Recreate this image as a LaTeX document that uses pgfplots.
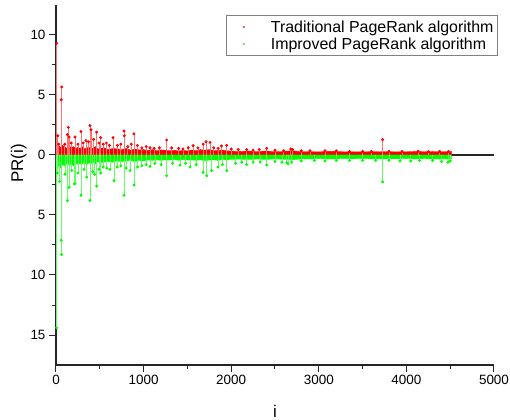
\documentclass[border=0pt]{standalone}
\usepackage{fontspec}
\setmainfont{Liberation Sans}
\usepackage{pgfplots}
\pgfplotsset{compat=1.18}

\definecolor{tradred}{RGB}{255,0,0}
\definecolor{imprgreen}{RGB}{0,255,0}

% dense band near zero (upper edge of the solid strip)
\pgfplotstableread{
x y
0 0.75
25 0.9
50 0.6
75 0.8
100 0.7
125 0.55
150 0.75
175 0.6
200 0.7
225 0.5
250 0.65
275 0.55
300 0.7
325 0.5
350 0.6
375 0.65
400 0.5
425 0.6
450 0.7
475 0.5
500 0.55
550 0.6
600 0.45
650 0.55
700 0.5
750 0.45
800 0.55
850 0.4
900 0.5
950 0.42
1000 0.45
1050 0.38
1100 0.45
1150 0.35
1200 0.42
1250 0.4
1300 0.35
1350 0.4
1400 0.33
1450 0.38
1500 0.34
1550 0.42
1600 0.36
1650 0.45
1700 0.4
1750 0.45
1800 0.35
1850 0.38
1900 0.42
1950 0.35
2000 0.32
2100 0.3
2200 0.33
2300 0.28
2400 0.34
2500 0.27
2600 0.3
2700 0.36
2800 0.27
2900 0.28
3000 0.26
3100 0.3
3200 0.3
3300 0.26
3400 0.27
3500 0.26
3600 0.28
3700 0.27
3800 0.28
3900 0.26
4000 0.27
4100 0.3
4200 0.27
4300 0.28
4400 0.27
4517 0.28
}\tradband

\pgfplotstableread{
x y
0 -1.0
25 -0.9
50 -1.1
75 -0.8
100 -0.9
125 -0.7
150 -0.85
175 -0.75
200 -0.9
225 -0.65
250 -0.8
275 -0.7
300 -0.75
325 -0.6
350 -0.8
375 -0.65
400 -0.7
425 -0.6
450 -0.75
475 -0.55
500 -0.65
550 -0.6
600 -0.55
650 -0.6
700 -0.5
750 -0.55
800 -0.5
850 -0.45
900 -0.55
950 -0.45
1000 -0.5
1050 -0.42
1100 -0.45
1150 -0.4
1200 -0.45
1250 -0.4
1300 -0.42
1350 -0.38
1400 -0.45
1450 -0.38
1500 -0.42
1550 -0.4
1600 -0.45
1650 -0.4
1700 -0.48
1750 -0.42
1800 -0.4
1850 -0.45
1900 -0.38
1950 -0.42
2000 -0.36
2100 -0.35
2200 -0.38
2300 -0.33
2400 -0.38
2500 -0.32
2600 -0.36
2700 -0.4
2800 -0.32
2900 -0.33
3000 -0.3
3100 -0.34
3200 -0.32
3300 -0.3
3400 -0.32
3500 -0.3
3600 -0.32
3700 -0.33
3800 -0.31
3900 -0.32
4000 -0.3
4100 -0.33
4200 -0.31
4300 -0.32
4400 -0.34
4517 -0.33
}\imprband

% individual spikes
\pgfplotstableread{
x y
8 9.3
20 1.6
30 0.9
60 4.6
65 5.67
100 0.9
130 1.7
140 2.3
150 1.5
175 1.0
217 1.5
250 0.9
285 1.95
310 1.0
342 1.2
370 1.1
388 2.45
400 2.1
430 1.3
464 1.9
490 1.0
510 1.45
540 0.9
575 1.0
610 0.8
651 1.45
700 0.8
740 0.9
776 2.0
780 1.6
820 0.7
860 0.9
890 1.76
930 0.8
980 0.6
1030 0.7
1073 0.6
1120 0.55
1180 0.6
1263 1.25
1320 0.6
1400 0.55
1450 0.5
1510 0.6
1566 0.78
1620 0.6
1680 0.9
1712 1.1
1758 1.05
1800 0.6
1850 0.55
1890 0.75
1948 0.8
2000 0.5
2080 0.45
2177 0.45
2250 0.4
2320 0.45
2405 0.56
2500 0.4
2600 0.35
2680 0.5
2700 0.45
2800 0.35
2900 0.35
3070 0.36
3200 0.35
3350 0.3
3500 0.3
3600 0.3
3729 1.28
3800 0.3
3950 0.3
4135 0.32
4250 0.28
4380 0.3
4480 0.3
}\tradspikes

\pgfplotstableread{
x y
8 -14.4
15 -1.5
40 -2.2
60 -7.1
65 -8.3
103 -1.6
130 -3.8
150 -2.7
180 -1.3
209 -2.4
217 -2.4
250 -1.5
285 -3.35
320 -1.2
350 -1.85
388 -3.8
420 -1.4
440 -1.6
464 -2.6
490 -1.2
510 -1.5
540 -1.0
580 -1.1
616 -1.2
662 -2.15
700 -1.0
740 -0.9
776 -3.35
800 -1.1
845 -1.3
890 -2.5
930 -1.0
980 -0.9
1030 -0.8
1073 -0.95
1130 -0.7
1200 -0.8
1263 -1.73
1330 -0.7
1415 -0.85
1480 -0.7
1530 -1.0
1600 -0.8
1680 -1.45
1720 -1.73
1777 -1.3
1850 -1.0
1900 -0.8
1950 -1.3
2050 -0.7
2120 -0.6
2177 -0.8
2250 -0.6
2330 -0.6
2405 -0.84
2500 -0.55
2580 -0.6
2633 -0.65
2650 -0.75
2690 -0.6
2800 -0.5
2950 -0.45
3070 -0.5
3200 -0.45
3350 -0.45
3500 -0.45
3650 -0.45
3729 -2.24
3800 -0.45
3927 -0.5
4050 -0.5
4150 -0.45
4300 -0.45
4403 -0.55
4475 -0.6
4500 -0.5
}\imprspikes

\begin{document}
\begin{tikzpicture}
\path[use as bounding box] (-56bp,-55bp) rectangle (454bp,365bp);
\begin{axis}[
  scale only axis,
  width=438bp, height=360bp,
  xmin=0, xmax=5000, ymin=-17.5, ymax=12.5,
  axis x line*=bottom, axis y line*=left,
  axis line style={black!85, line width=1.2bp},
  xtick={0,1000,2000,3000,4000,5000},
  ytick={-15,-10,-5,0,5,10},
  yticklabels={15,10,5,0,5,10},
  minor x tick num=1, minor y tick num=1,
  tick align=outside,
  major tick length=7bp, minor tick length=4bp,
  tick style={black!85, line width=1bp},
  /pgf/number format/assume math mode=true,
  /pgf/number format/1000 sep={},
  tick label style={font=\fontsize{13.5}{16}\selectfont},
  xlabel={i}, ylabel={PR(i)},
  label style={font=\fontsize{17}{20}\selectfont},
  xlabel style={at={(axis description cs:0.5,-0.13)}, anchor=center},
  ylabel style={at={(axis description cs:-0.085,0.56)}, anchor=center},
  legend style={at={(1.009,0.972)}, anchor=north east,
    draw=gray, line width=0.8bp, fill=white,
    font=\fontsize{16}{20}\selectfont,
    inner xsep=2bp, inner ysep=3bp, row sep=0bp},
  legend cell align=left,
  legend image code/.code={\path[draw=none, fill=none] (0,-2bp) rectangle (40bp,2bp);
    \fill[#1] (15bp,0) circle (0.9bp);},
  clip=false,
]
\addplot[black!85, line width=1.2bp, forget plot] coordinates {(0,0) (5000,0)};
\addplot[fill=tradred, draw=tradred, line width=0.3bp, forget plot] table[x=x,y=y] {\tradband} \closedcycle;
\addplot[fill=imprgreen, draw=imprgreen, line width=0.3bp, forget plot] table[x=x,y=y] {\imprband} \closedcycle;
\addplot[ycomb, draw=tradred!55, line width=0.7bp,
  mark=*, mark size=1.1bp, mark options={fill=tradred, draw=tradred}]
  table[x=x,y=y] {\tradspikes};
\addlegendentry{Traditional PageRank algorithm}
\addplot[ycomb, draw=imprgreen!60, line width=0.7bp,
  mark=*, mark size=1.1bp, mark options={fill=imprgreen, draw=imprgreen}]
  table[x=x,y=y] {\imprspikes};
\addlegendentry{Improved PageRank algorithm}
\end{axis}
\end{tikzpicture}
\end{document}
